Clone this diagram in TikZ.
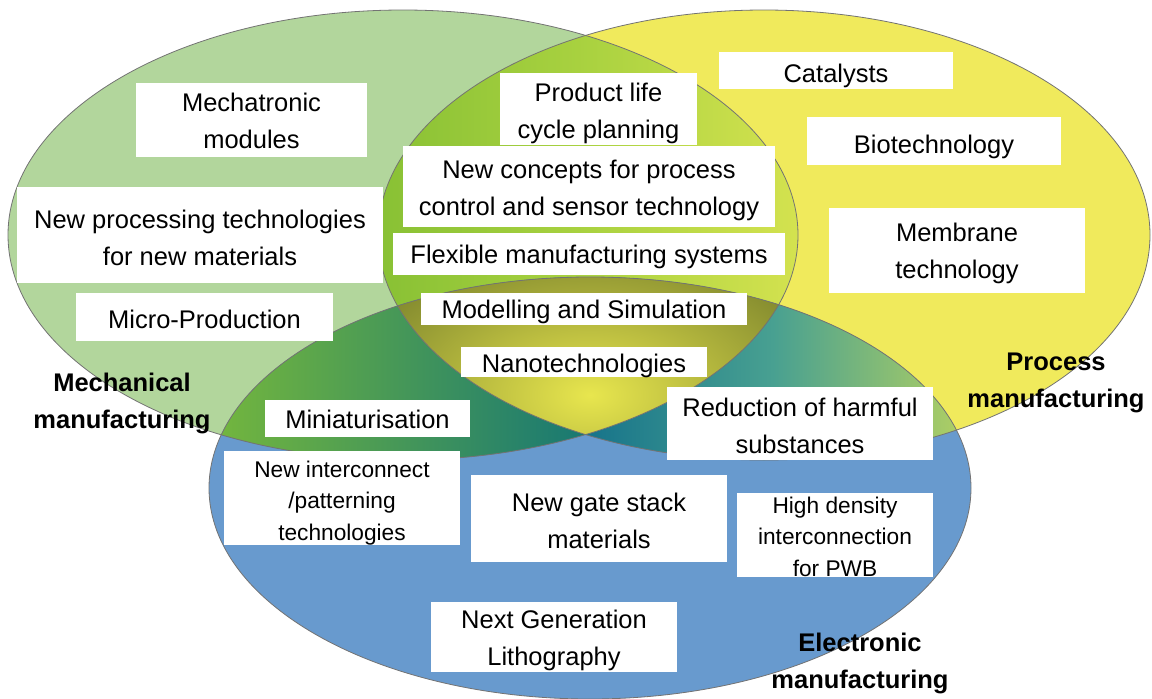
\documentclass[tikz,border=0pt]{standalone}
\usepackage{fontspec}
\setmainfont{Liberation Sans}
% centred stack of lines; the baseline of the box is the last line
\newcommand\boxlines[1]{\vbox{\let\\\cr\halign{\hfil##\hfil\cr#1\crcr}}}

\definecolor{mechfill}{RGB}{178,214,156}
\definecolor{procfill}{RGB}{240,234,92}
\definecolor{elecfill}{RGB}{104,154,206}
\definecolor{mpL}{RGB}{135,192,52}
\definecolor{mpM}{RGB}{170,210,64}
\definecolor{mpR}{RGB}{214,227,80}
\definecolor{meL}{RGB}{118,184,60}
\definecolor{meR}{RGB}{18,116,118}
\definecolor{peL}{RGB}{18,112,138}
\definecolor{peM}{RGB}{72,160,145}
\definecolor{peR}{RGB}{182,210,96}
\definecolor{allC}{RGB}{232,230,78}
\definecolor{allO}{RGB}{98,108,36}

\begin{document}
\begin{tikzpicture}[x=1pt, y=-1pt,
  txtbox/.style={fill=white, inner sep=0pt, text depth=0pt,
    font=\fontsize{25.5}{36.5}\selectfont},
  smallbox/.style={txtbox, font=\fontsize{22.7}{31.5}\selectfont},
  fieldname/.style={inner sep=0pt, anchor=base,
    font=\bfseries\fontsize{25.5}{37}\selectfont},
  rim/.style={draw=black!55, line width=0.8pt}]
\useasboundingbox (0,0) rectangle (1152,699);

% the three manufacturing fields
\fill[mechfill] (403,235) ellipse [x radius=395pt, y radius=225pt];
\fill[procfill] (764,235) ellipse [x radius=386pt, y radius=225pt];
\fill[elecfill] (590,488) ellipse [x radius=381pt, y radius=211pt];

% mechanical and process overlap
\begin{scope}
  \clip (403,235) ellipse [x radius=395pt, y radius=225pt];
  \clip (764,235) ellipse [x radius=386pt, y radius=225pt];
  \shade[left color=mpL, right color=mpR, middle color=mpM] (370,0) rectangle (810,470);
\end{scope}
% mechanical and electronic overlap
\begin{scope}
  \clip (403,235) ellipse [x radius=395pt, y radius=225pt];
  \clip (590,488) ellipse [x radius=381pt, y radius=211pt];
  \shade[left color=meL, right color=meR] (205,270) rectangle (610,470);
\end{scope}
% process and electronic overlap
\begin{scope}
  \clip (764,235) ellipse [x radius=386pt, y radius=225pt];
  \clip (590,488) ellipse [x radius=381pt, y radius=211pt];
  \shade[left color=peL, right color=peR, middle color=peM] (570,270) rectangle (975,470);
\end{scope}
% common core of all three
\begin{scope}
  \clip (403,235) ellipse [x radius=395pt, y radius=225pt];
  \clip (764,235) ellipse [x radius=386pt, y radius=225pt];
  \clip (590,488) ellipse [x radius=381pt, y radius=211pt];
  \shade[inner color=allC, outer color=allO] (590,395) ellipse [x radius=330pt, y radius=200pt];
\end{scope}

% outlines
\draw[rim] (403,235) ellipse [x radius=395pt, y radius=225pt];
\draw[rim] (764,235) ellipse [x radius=386pt, y radius=225pt];
\draw[rim] (590,488) ellipse [x radius=381pt, y radius=211pt];

% mechanical topics
\node[txtbox, minimum width=231pt, minimum height=74pt, text height=56pt] (mech1) at (251.5,120) {\boxlines{Mechatronic\\modules}};
\node[txtbox, minimum width=366pt, minimum height=96pt, text height=60pt] (mech2) at (200,235) {\boxlines{New processing technologies\\for new materials}};
\node[txtbox, minimum width=257pt, minimum height=48pt, text height=22pt] (mech3) at (204.5,317) {Micro-Production};

% shared topics
\node[txtbox, minimum width=197pt, minimum height=72pt, text height=58pt] (mid1) at (598.5,109) {\boxlines{Product life\\cycle planning}};
\node[txtbox, minimum width=372pt, minimum height=81pt, text height=57pt] (mid2) at (589,186.5) {\boxlines{New concepts for process\\control and sensor technology}};
\node[txtbox, minimum width=392pt, minimum height=42pt, text height=18pt] (mid3) at (589,254) {Flexible manufacturing systems};
\node[txtbox, minimum width=326pt, minimum height=32pt, text height=18pt] (mid4) at (584,309) {Modelling and Simulation};
\node[txtbox, minimum width=246pt, minimum height=30pt, text height=20pt] (mid5) at (584,362) {Nanotechnologies};

% process topics
\node[txtbox, minimum width=234pt, minimum height=37pt, text height=23pt] (proc1) at (836,70.5) {Catalysts};
\node[txtbox, minimum width=254pt, minimum height=48pt, text height=24pt] (proc2) at (934,141) {Biotechnology};
\node[txtbox, minimum width=256pt, minimum height=85pt, text height=55pt] (proc3) at (957,250.5) {\boxlines{Membrane\\technology}};

% electronic topics
\node[txtbox, minimum width=205pt, minimum height=37pt, text height=19pt] (me1) at (367.5,418.5) {Miniaturisation};
\node[smallbox, minimum width=236pt, minimum height=94pt, text height=84pt] (elec1) at (342,498) {\boxlines{New interconnect\\/patterning\\technologies}};
\node[txtbox, minimum width=256pt, minimum height=87pt, text height=59pt] (elec2) at (599,518.5) {\boxlines{New gate stack\\materials}};
\node[txtbox, minimum width=266pt, minimum height=73pt, text height=59pt] (pe1) at (800,423.5) {\boxlines{Reduction of harmful\\substances}};
\node[smallbox, minimum width=196pt, minimum height=84pt, text height=82pt] (elec3) at (835,535) {\boxlines{High density\\interconnection\\for PWB}};
\node[txtbox, minimum width=246pt, minimum height=70pt, text height=56pt] (elec4) at (554,637) {\boxlines{Next Generation\\Lithography}};

% field names
\node[fieldname] (mechname) at (122,428) {\boxlines{Mechanical\\manufacturing}};
\node[fieldname] (procname) at (1056,407) {\boxlines{Process\\manufacturing}};
\node[fieldname] (elecname) at (860,688) {\boxlines{Electronic\\manufacturing}};
\end{tikzpicture}
\end{document}
